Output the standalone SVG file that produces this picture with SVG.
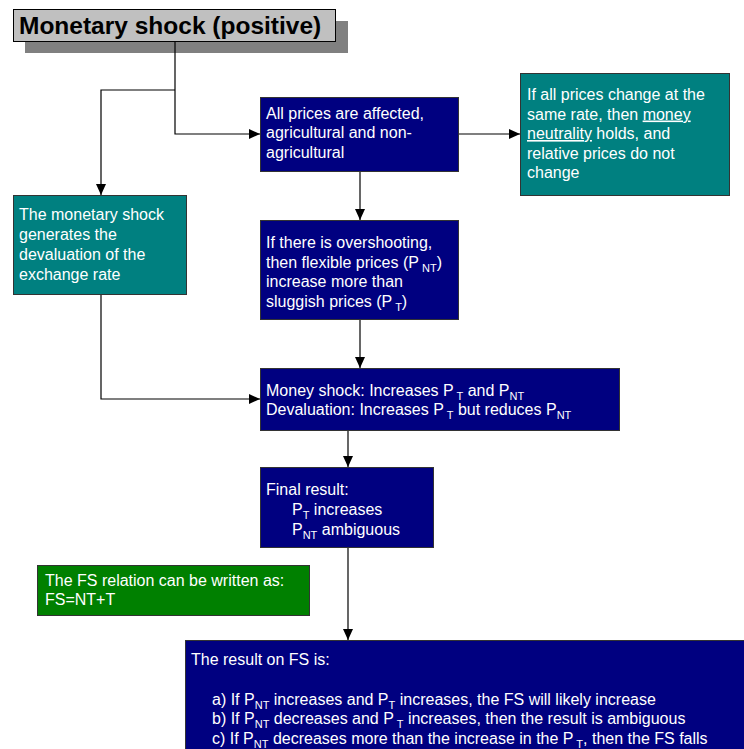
<svg xmlns="http://www.w3.org/2000/svg" width="744" height="749" viewBox="0 0 744 749">
<style>
  text { font-family: "Liberation Sans", Arial, sans-serif; font-size: 16px; fill: #ffffff; }
  .title { font-size: 24.5px; font-weight: bold; fill: #000000; }
  .box { stroke: #333333; stroke-width: 1; }
  .navy { fill: #000080; }
  .teal { fill: #008080; }
  .green { fill: #008000; }
  .sub { font-size: 11px; }
  .conn { fill: none; stroke: #000000; stroke-width: 1.2; marker-end: url(#arrow); }
</style>
<defs>
  <marker id="arrow" markerUnits="userSpaceOnUse" markerWidth="12" markerHeight="10" refX="11" refY="5" orient="auto">
    <path d="M0,0 L11,5 L0,10 Z" fill="#000000"/>
  </marker>
</defs>
<rect width="744" height="749" fill="#ffffff"/>

<g id="title">
  <rect x="25" y="21" width="323" height="32" fill="#808080"/>
  <rect x="13.5" y="9.5" width="322" height="32" fill="#c0c0c0" stroke="#000000" stroke-width="1"/>
  <text class="title" x="19" y="34">Monetary shock (positive)</text>
</g>

<g id="connectors">
  <path class="conn" d="M175,41 V134 H260"/>
  <path class="conn" d="M175,90 H101 V195"/>
  <path class="conn" d="M459,134 H520"/>
  <path class="conn" d="M360,171 V220"/>
  <path class="conn" d="M101,295 V399 H260"/>
  <path class="conn" d="M360,320 V368"/>
  <path class="conn" d="M348,430 V467"/>
  <path class="conn" d="M348,548 V640"/>
</g>

<g id="all-prices">
  <rect class="box navy" x="260.5" y="97.5" width="198" height="74"/>
  <text x="266" y="118.5">All prices are affected,</text>
  <text x="266" y="138">agricultural and non-</text>
  <text x="266" y="157.5">agricultural</text>
</g>

<g id="neutrality">
  <rect class="box teal" x="520.5" y="73.5" width="209" height="122"/>
  <text x="527" y="100">If all prices change at the</text>
  <text x="527" y="119.5">same rate, then <tspan text-decoration="underline">money</tspan></text>
  <text x="527" y="139"><tspan text-decoration="underline">neutrality</tspan> holds, and</text>
  <text x="527" y="158.5">relative prices do not</text>
  <text x="527" y="178">change</text>
</g>

<g id="devaluation">
  <rect class="box teal" x="13.5" y="195.5" width="173" height="99"/>
  <text x="19" y="220">The monetary shock</text>
  <text x="19" y="240">generates the</text>
  <text x="19" y="260">devaluation of the</text>
  <text x="19" y="280">exchange rate</text>
</g>

<g id="overshooting">
  <rect class="box navy" x="260.5" y="220.5" width="198" height="99"/>
  <text x="266" y="248">If there is overshooting,</text>
  <text x="266" y="267.5">then flexible prices (P<tspan class="sub" dy="4"> NT</tspan><tspan dy="-4">)</tspan></text>
  <text x="266" y="287">increase more than</text>
  <text x="266" y="306.5">sluggish prices (P<tspan class="sub" dy="4"> T</tspan><tspan dy="-4">)</tspan></text>
</g>

<g id="combined">
  <rect class="box navy" x="260.5" y="368.5" width="359" height="62"/>
  <text x="266" y="395.5">Money shock: Increases P<tspan class="sub" dy="4"> T</tspan><tspan dy="-4"> and P</tspan><tspan class="sub" dy="4">NT</tspan></text>
  <text x="266" y="415">Devaluation: Increases P<tspan class="sub" dy="4"> T</tspan><tspan dy="-4"> but reduces P</tspan><tspan class="sub" dy="4">NT</tspan></text>
</g>

<g id="final-result">
  <rect class="box navy" x="260.5" y="467.5" width="173" height="80"/>
  <text x="266" y="495">Final result:</text>
  <text x="292" y="515">P<tspan class="sub" dy="4">T</tspan><tspan dy="-4"> increases</tspan></text>
  <text x="292" y="534.5">P<tspan class="sub" dy="4">NT</tspan><tspan dy="-4"> ambiguous</tspan></text>
</g>

<g id="fs-relation">
  <rect class="box green" x="37.5" y="565.5" width="272" height="50"/>
  <text x="45" y="585.5">The FS relation can be written as:</text>
  <text x="45" y="605">FS=NT+T</text>
</g>

<g id="fs-result">
  <rect class="box navy" x="185.5" y="640.5" width="570" height="120"/>
  <text x="191" y="665">The result on FS is:</text>
  <text x="212" y="704.5">a) If P<tspan class="sub" dy="4">NT</tspan><tspan dy="-4"> increases and P</tspan><tspan class="sub" dy="4">T</tspan><tspan dy="-4"> increases, the FS will likely increase</tspan></text>
  <text x="212" y="724">b) If P<tspan class="sub" dy="4">NT</tspan><tspan dy="-4"> decreases and P</tspan><tspan class="sub" dy="4"> T</tspan><tspan dy="-4"> increases, then the result is ambiguous</tspan></text>
  <text x="212" y="743.5">c) If P<tspan class="sub" dy="4">NT</tspan><tspan dy="-4"> decreases more than the increase in the P</tspan><tspan class="sub" dy="4"> T</tspan><tspan dy="-4">, then the FS falls</tspan></text>
</g>
</svg>
